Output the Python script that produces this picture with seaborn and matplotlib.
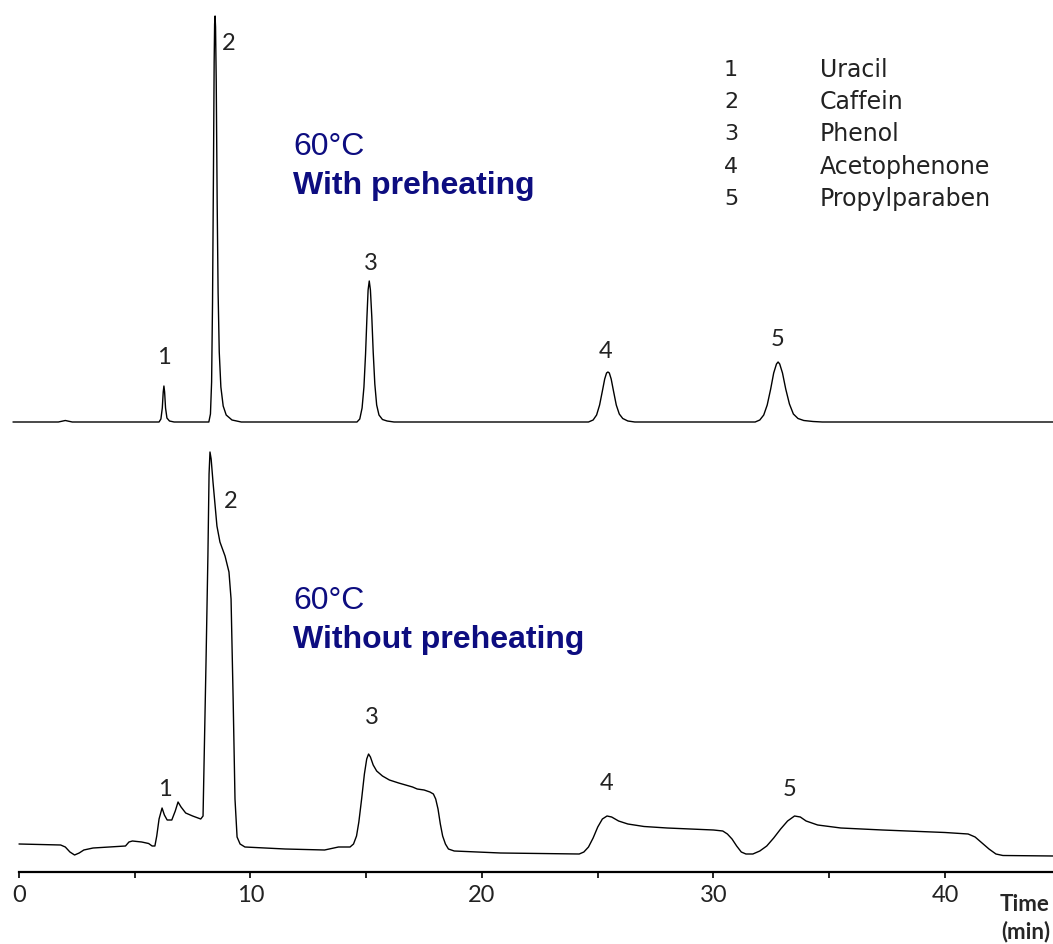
import numpy as np
import pandas as pd
import seaborn as sns
import matplotlib.pyplot as plt

# Chromatogram traces (time in min, signal above baseline)
top_time = [-0.26, 1.7, 2.0, 2.3, 6.05, 6.13, 6.19, 6.23, 6.26, 6.29, 6.33, 6.39, 6.5, 6.7,
            8.2, 8.27, 8.32, 8.36, 8.40, 8.43, 8.45, 8.47, 8.49, 8.52, 8.56, 8.60, 8.65,
            8.72, 8.82, 8.95, 9.2, 9.6,
            14.6, 14.72, 14.82, 14.9, 14.97, 15.03, 15.08, 15.13, 15.18, 15.24, 15.30,
            15.37, 15.45, 15.55, 15.7, 15.9, 16.2,
            24.6, 24.8, 24.95, 25.08, 25.2, 25.3, 25.38, 25.44, 25.5, 25.58, 25.68, 25.8,
            25.93, 26.08, 26.3, 26.6,
            31.8, 32.0, 32.17, 32.32, 32.47, 32.6, 32.72, 32.79, 32.86, 32.98, 33.12,
            33.28, 33.45, 33.65, 33.9, 34.3, 34.7, 44.7]
top_signal = [0, 0, 1.5, 0, 0, 3, 14, 30, 36, 30, 14, 4, 1, 0,
              0, 8, 40, 120, 250, 360, 398, 406, 395, 340, 220, 130, 70,
              35, 16, 7, 2, 0,
              0, 3, 14, 35, 68, 105, 132, 141, 132, 105, 70,
              38, 17, 7, 2.5, 1, 0,
              0, 2, 7, 17, 31, 43, 49, 50, 49, 43, 31, 17,
              8, 3.5, 1, 0,
              0, 2, 7, 17, 33, 49, 58, 60, 58, 49, 33,
              18, 8, 3.5, 1.5, 0.5, 0, 0]

bottom_time = [0.0, 1.8, 2.0, 2.2, 2.4, 2.6, 2.8, 3.2, 4.6, 4.75, 4.9, 5.3, 5.6, 5.75, 5.87,
               5.95, 6.05, 6.18, 6.28, 6.4, 6.6, 6.75, 6.87, 7.0, 7.2, 7.5, 7.85,
               7.95, 8.08, 8.16, 8.21, 8.25, 8.30, 8.38, 8.55, 8.68, 8.9, 9.07, 9.16, 9.25,
               9.33, 9.42, 9.55, 9.76, 11.5, 13.2, 13.6, 13.8,
               14.3, 14.45, 14.58, 14.68, 14.8, 14.92, 15.02, 15.1, 15.18, 15.3, 15.45, 15.7,
               16.0, 16.4, 16.7, 17.0, 17.2, 17.5, 17.75, 17.9, 18.0, 18.1, 18.2, 18.3,
               18.42, 18.55, 18.8, 20.8,
               24.2, 24.4, 24.6, 24.8, 25.0, 25.2, 25.4, 25.6, 25.9, 26.3, 27.0, 28.0, 30.0,
               30.4, 30.6, 30.8, 31.0, 31.2, 31.4, 31.7, 32.0, 32.3, 32.6, 32.9, 33.2, 33.5,
               33.75, 34.0, 34.5, 35.5, 37.3, 40.0, 41.0, 41.3, 41.6, 41.9, 42.2, 42.5, 44.7]
bottom_signal = [0, -1, -3, -8, -11, -9, -6, -4, -2, 2, 3, 2, 0.5, -2, -2,
                 8, 25, 36, 29, 24, 24, 33, 42, 37, 31, 28, 25,
                 28, 184, 288, 370, 392, 385, 362, 318, 302, 288, 272, 245, 145,
                 45, 7, 0, -3, -5, -6, -4, -3,
                 -3, 0, 8, 22, 45, 70, 85, 90, 87, 79, 73, 68,
                 64, 61, 59, 57, 55, 54, 52, 50, 45, 35, 20, 8,
                 0, -5, -7, -9,
                 -10, -8, -3, 6, 17, 25, 28, 27, 23, 20, 17.5, 16, 14,
                 13, 10, 5, -2, -8, -10, -10, -7, -2, 6, 15, 23, 28,
                 27, 23, 19, 16, 14, 11.5, 10, 7, 1, -5, -10, -11.5, -12]

peak_labels = ['1', '2', '3', '4', '5']
top_label_time = [6.26, 9.05, 15.2, 25.35, 32.75]
top_label_sig = [65, 380, 160, 72, 84]
bottom_label_time = [6.3, 9.15, 15.25, 25.4, 33.3]
bottom_label_sig = [55, 343, 127, 61, 55]

compounds = ['Uracil', 'Caffein', 'Phenol', 'Acetophenone', 'Propylparaben']
x_ticks = [0, 10, 20, 30, 40]

top_offset = 450
bottom_offset = 28
navy = '#0d0d80'
ink = '#222222'

sns.set_style('white')
plt.rcParams['font.family'] = ['Lato', 'DejaVu Sans']

df = pd.concat([
    pd.DataFrame({'time': top_time, 'y': np.array(top_signal) + top_offset, 'run': 'with'}),
    pd.DataFrame({'time': bottom_time, 'y': np.array(bottom_signal) + bottom_offset, 'run': 'without'}),
])

fig = plt.figure(figsize=(10.53, 9.45), dpi=100)
ax = fig.add_axes([0, 72 / 945, 1, 873 / 945])
sns.lineplot(data=df, x='time', y='y', units='run', estimator=None, sort=False,
             color='black', linewidth=1.0, ax=ax)

ax.set_xlim(-19 / 23.15, 1034 / 23.15)
ax.set_ylim(0, 873)
for s in ['left', 'top', 'right']:
    ax.spines[s].set_visible(False)
ax.spines['bottom'].set_bounds(0, 1034 / 23.15)
ax.spines['bottom'].set_linewidth(1.6)
ax.spines['bottom'].set_color('black')
ax.set_yticks([])
ax.set_xticks(np.arange(0, 45, 5))
ax.set_xticklabels([str(t) if t in x_ticks else '' for t in range(0, 45, 5)])
ax.tick_params(axis='x', bottom=True, direction='out', length=4, width=1.2, color='black',
               labelsize=17, pad=5, labelcolor=ink)
ax.set_xlabel('')
ax.set_ylabel('')

for lab, t, s in zip(peak_labels, top_label_time, top_label_sig):
    ax.text(t, s + top_offset, lab, ha='center', va='center', fontsize=17, color=ink)
for lab, t, s in zip(peak_labels, bottom_label_time, bottom_label_sig):
    ax.text(t, s + bottom_offset, lab, ha='center', va='center', fontsize=17, color=ink)

# run annotations
arial = ['Liberation Sans', 'DejaVu Sans']
fig.text(293 / 1053, 1 - 147 / 945, '60°C', fontsize=23, color=navy, va='center', family=arial)
fig.text(293 / 1053, 1 - 186 / 945, 'With preheating', fontsize=23, color=navy, va='center',
         fontweight='bold', family=arial)
fig.text(293 / 1053, 1 - 601 / 945, '60°C', fontsize=23, color=navy, va='center', family=arial)
fig.text(293 / 1053, 1 - 640 / 945, 'Without preheating', fontsize=23, color=navy, va='center',
         fontweight='bold', family=arial)

# compound key
key_font = ['DejaVu Sans']
for i, (lab, name) in enumerate(zip(peak_labels, compounds)):
    yk = 1 - (70 + 32.2 * i) / 945
    fig.text(731 / 1053, yk, lab, fontsize=16, ha='center', va='center', color=ink, family=key_font)
    fig.text(820 / 1053, yk, name, fontsize=17, ha='left', va='center', color=ink, family=key_font)

fig.text(1050 / 1053, 1 - 918 / 945, 'Time\n(min)', fontsize=16, fontweight='bold',
         ha='right', va='center', linespacing=1.3)

fig.savefig('out.png', dpi=100)
